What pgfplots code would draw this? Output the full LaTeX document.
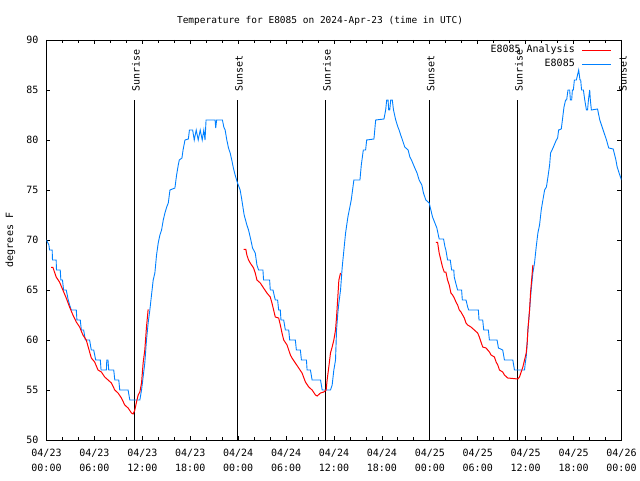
\documentclass[border=0pt]{standalone}
\usepackage{fontspec}
\setmainfont{DejaVu Sans Mono}
\usepackage{pgfplots}
\pgfplotsset{compat=1.18}
\definecolor{gblue}{RGB}{0,128,255}
\begin{document}
\begin{tikzpicture}
\path[use as bounding box] (-46.5pt,-40pt) rectangle (593.5pt,440pt);
\begin{axis}[
  scale only axis, width=575pt, height=400pt,
  xmin=0, xmax=72, ymin=50, ymax=90,
  clip mode=individual,
  axis line style={black, line width=0.8pt},
  tick align=inside, tick style={black, line width=0.8pt},
  major tick length=4pt, minor tick length=3pt,
  xtick={0,6,...,72}, minor x tick num=2,
  ytick={50,55,...,90},
  xticklabels={{04/23\\00:00},{04/23\\06:00},{04/23\\12:00},{04/23\\18:00},{04/24\\00:00},{04/24\\06:00},{04/24\\12:00},{04/24\\18:00},{04/25\\00:00},{04/25\\06:00},{04/25\\12:00},{04/25\\18:00},{04/26\\00:00}},
  xticklabel style={align=center, font=\fontsize{10}{15}\selectfont, inner sep=0pt, yshift=-9pt},
  yticklabel style={font=\fontsize{10}{12}\selectfont, inner sep=0pt, xshift=-8pt},
  /pgf/number format/assume math mode=true,
  ylabel={degrees F},
  ylabel style={at={(axis description cs:-0.0626,0.5)}, anchor=center, font=\fontsize{10}{12}\selectfont},
  legend style={at={(rel axis cs:0.9835,0.988)}, anchor=north east, draw=none, fill=none,
    font=\fontsize{10}{12}\selectfont, inner sep=0pt, row sep=3pt, column sep=6pt,
    nodes={inner sep=1pt, text height=7pt, text depth=2pt}},
  legend cell align=right, legend plot pos=right,
  legend image code/.code={\draw (0pt,0pt) -- (29pt,0pt);},
]
\addlegendimage{red, line width=1pt}
\addlegendentry{E8085 Analysis}
\addlegendimage{gblue, line width=1pt}
\addlegendentry{E8085}

\node[anchor=center, inner sep=0pt, font=\fontsize{9.5}{11}\selectfont] at (rel axis cs:0.4757,1.048) {Temperature for E8085 on 2024-Apr-23 (time in UTC)};

% sunrise / sunset lines
\addplot[black, line width=0.8pt, forget plot] coordinates {(11.0,50) (11.0,84)};
\addplot[black, line width=0.8pt, forget plot] coordinates {(23.9,50) (23.9,84)};
\addplot[black, line width=0.8pt, forget plot] coordinates {(34.93,50) (34.93,84)};
\addplot[black, line width=0.8pt, forget plot] coordinates {(47.93,50) (47.93,84)};
\addplot[black, line width=0.8pt, forget plot] coordinates {(58.95,50) (58.95,84)};
\addplot[black, line width=0.8pt, forget plot] coordinates {(72.0,50) (72.0,84)};
\node[rotate=90, anchor=west, inner sep=0pt, font=\fontsize{10}{12}\selectfont] at (axis cs:11.19,84.8) {Sunrise};
\node[rotate=90, anchor=west, inner sep=0pt, font=\fontsize{10}{12}\selectfont] at (axis cs:24.09,84.8) {Sunset};
\node[rotate=90, anchor=west, inner sep=0pt, font=\fontsize{10}{12}\selectfont] at (axis cs:35.12,84.8) {Sunrise};
\node[rotate=90, anchor=west, inner sep=0pt, font=\fontsize{10}{12}\selectfont] at (axis cs:48.12,84.8) {Sunset};
\node[rotate=90, anchor=west, inner sep=0pt, font=\fontsize{10}{12}\selectfont] at (axis cs:59.14,84.8) {Sunrise};
\node[rotate=90, anchor=west, inner sep=0pt, font=\fontsize{10}{12}\selectfont] at (axis cs:72.19,84.8) {Sunset};

% E8085 observed
\addplot[gblue, line width=0.9pt, forget plot] coordinates {
(0,70) (0.3,69.5) (0.38,69) (0.71,69) (0.75,68) (1.21,68) (1.25,67) (1.72,67) (1.8,66) (2.0,66)
(2.14,65) (2.47,65) (2.6,64.5) (2.72,64) (2.9,63.5) (3.1,63) (3.73,63) (3.81,62) (4.23,62) (4.36,61)
(4.65,61) (4.86,60) (5.4,60) (5.5,59.5) (5.61,59) (5.91,59) (6.16,58) (6.74,58) (6.83,57) (7.5,57)
(7.55,58) (7.7,58) (7.79,57) (8.42,57) (8.55,56) (9.05,56) (9.17,55) (10.22,55) (10.43,54) (11.69,54)
(11.9,55) (12.1,56.3) (12.31,57.7) (12.52,60) (12.73,61.7) (12.94,63) (13.15,64.5) (13.36,66) (13.57,66.7) (13.78,68.5)
(13.99,69.7) (14.2,70.5) (14.41,71) (14.62,72) (14.83,72.7) (15.05,73.3) (15.25,73.7) (15.46,75) (16.08,75.2) (16.29,76.5)
(16.5,77.5) (16.63,78) (16.96,78.2) (17.1,79) (17.34,80) (17.76,80.1) (17.9,81) (18.3,81) (18.5,80) (18.75,81)
(19.0,80) (19.25,81) (19.5,80) (19.7,81) (19.85,80) (19.98,82) (21.11,82)
(21.19,81.2) (21.3,82) (22.03,82) (22.2,81.3) (22.37,81) (22.58,80) (22.79,79.2) (23.0,78.7) (23.2,78) (23.4,77.2)
(23.62,76.5) (23.92,75.7) (24.25,75) (24.46,74) (24.75,72.5) (25.09,71.5) (25.3,71) (25.59,70) (25.8,69.2) (26.14,68.7)
(26.35,67.5) (26.56,67) (27.1,67) (27.18,66) (27.94,66) (28.02,65) (28.36,65) (28.5,64.5) (28.65,64) (28.94,64)
(29.07,63) (29.28,63) (29.36,62) (29.7,62) (29.91,61) (30.33,61) (30.45,60) (31.16,60) (31.29,59) (31.79,59)
(31.92,58) (32.55,58) (32.63,57) (33.05,57) (33.26,56) (34.31,56) (34.52,55) (35.56,55) (35.77,55.5) (35.98,57)
(36.19,58) (36.32,61) (36.48,62.7) (36.61,63.7) (36.82,65) (37.03,67.3) (37.24,69) (37.45,70.7) (37.74,72.3) (38.16,74)
(38.49,76) (39.25,76) (39.42,77.5) (39.67,79) (39.96,79) (40.09,80) (41.0,80.1) (41.22,82) (42.26,82.1) (42.47,83)
(42.6,84) (42.77,84) (42.85,83) (42.98,83) (43.1,84) (43.3,84) (43.45,83) (43.73,82) (44.0,81.3) (44.15,81)
(44.35,80.5) (44.57,80) (44.86,79.3) (45.28,79) (45.5,78.3) (45.7,78) (46.12,77.2) (46.4,76.7) (46.66,76) (47.0,75.5)
(47.2,74.7) (47.5,74) (47.92,73.7) (48.34,72.3) (48.88,71.2) (49.17,70.1) (49.72,70.1) (49.9,69.3) (50.01,69) (50.22,68)
(50.56,68) (50.73,67) (51.0,67) (51.06,66.3) (51.31,65.5) (51.48,65) (51.98,65) (52.07,64) (52.53,64) (52.74,63.3)
(52.86,63) (54.08,63) (54.16,62) (54.62,62) (54.75,61) (55.33,61) (55.46,60) (56.42,60) (56.59,59.2) (57.13,59)
(57.34,58) (58.39,58) (58.6,57) (59.86,57) (59.95,57.7) (60.07,58.3) (60.19,59.7) (60.28,61) (60.49,63) (60.69,65)
(60.9,66.7) (61.11,67.7) (61.32,69.3) (61.53,70.7) (61.74,71.5) (61.95,73) (62.16,74) (62.37,75) (62.6,75.3) (62.79,76.3)
(63.0,77.5) (63.12,78.7) (63.42,79.2) (63.84,80) (64.0,80.2) (64.13,81) (64.46,81.1) (64.6,82) (64.8,83.3) (65.0,84)
(65.13,84) (65.3,85) (65.51,85) (65.6,84) (65.76,84) (65.85,85) (65.97,85) (66.1,86) (66.35,86) (66.64,87)
(66.8,86) (66.89,86) (67.0,85) (67.23,85) (67.4,84) (67.61,83) (67.75,83) (67.86,84) (68.02,85) (68.1,84)
(68.23,83) (69.0,83.1) (69.28,82) (69.7,81) (70.12,80) (70.4,79.2) (70.96,79.1) (71.3,78) (71.46,77.3) (71.7,76.7)
(72,76)
};

% E8085 Analysis
\addplot[red, line width=1pt, forget plot] coordinates {
(0.59,67.27) (0.8,67.27) (1.21,66.3) (1.63,65.8) (2.05,65) (2.47,64.2) (2.89,63.3) (3.31,62.5) (3.73,61.8) (4.15,61.3)
(4.56,60.5) (4.98,60) (5.4,58.8) (5.61,58.2) (6.03,57.8) (6.45,57) (6.87,56.8) (7.29,56.3) (7.71,56) (8.13,55.7)
(8.55,55) (8.96,54.7) (9.38,54.2) (9.8,53.5) (10.22,53.2) (10.64,52.7) (10.85,52.6) (11.06,53) (11.27,53.8) (11.48,54.5)
(11.69,54.8) (11.9,55.7) (12.1,57.7) (12.31,59) (12.52,61.3) (12.73,63.07)
};
\addplot[red, line width=1pt, forget plot] coordinates {
(24.67,69.07) (24.96,69.07) (25.09,68.5) (25.3,68) (25.51,67.7) (25.93,67.2) (26.14,66.7) (26.35,66) (26.77,65.7) (27.18,65.2)
(27.6,64.7) (28.02,64.3) (28.23,63.7) (28.44,63) (28.65,62.3) (29.07,62.2) (29.28,61.5) (29.49,60.7) (29.7,60) (30.12,59.5)
(30.33,59) (30.54,58.5) (30.74,58.2) (31.16,57.7) (31.58,57.2) (32.0,56.7) (32.42,55.8) (32.84,55.3) (33.26,55) (33.68,54.5)
(33.89,54.4) (34.31,54.7) (34.72,54.8) (35.02,55) (35.14,56) (35.35,57.3) (35.56,58.7) (35.77,59.3) (35.98,60) (36.19,61)
(36.32,62.3) (36.48,64.3) (36.61,66) (36.82,66.7)
};
\addplot[red, line width=1pt, forget plot] coordinates {
(48.76,69.77) (48.97,69.77) (49.17,68.7) (49.38,68) (49.59,67.3) (49.8,66.8) (50.01,66.8) (50.22,66) (50.43,65.5) (50.64,64.7)
(50.85,64.5) (51.06,64.2) (51.27,63.8) (51.48,63.5) (51.69,63) (51.9,62.8) (52.11,62.5) (52.32,62.2) (52.53,61.7) (52.74,61.5)
(53.15,61.3) (53.57,61) (53.99,60.7) (54.2,60.3) (54.41,59.8) (54.62,59.3) (55.04,59.2) (55.46,58.8) (55.67,58.5) (56.09,58.3)
(56.3,57.8) (56.51,57.5) (56.72,57) (57.13,56.8) (57.34,56.5) (57.76,56.2) (59.02,56.1) (59.23,56.3) (59.44,56.8) (59.65,57.3)
(59.86,58) (60.07,58.7) (60.19,59.7) (60.28,61) (60.49,63) (60.61,64.7) (60.78,66.3) (60.9,67.5)
};
\end{axis}
\end{tikzpicture}
\end{document}
